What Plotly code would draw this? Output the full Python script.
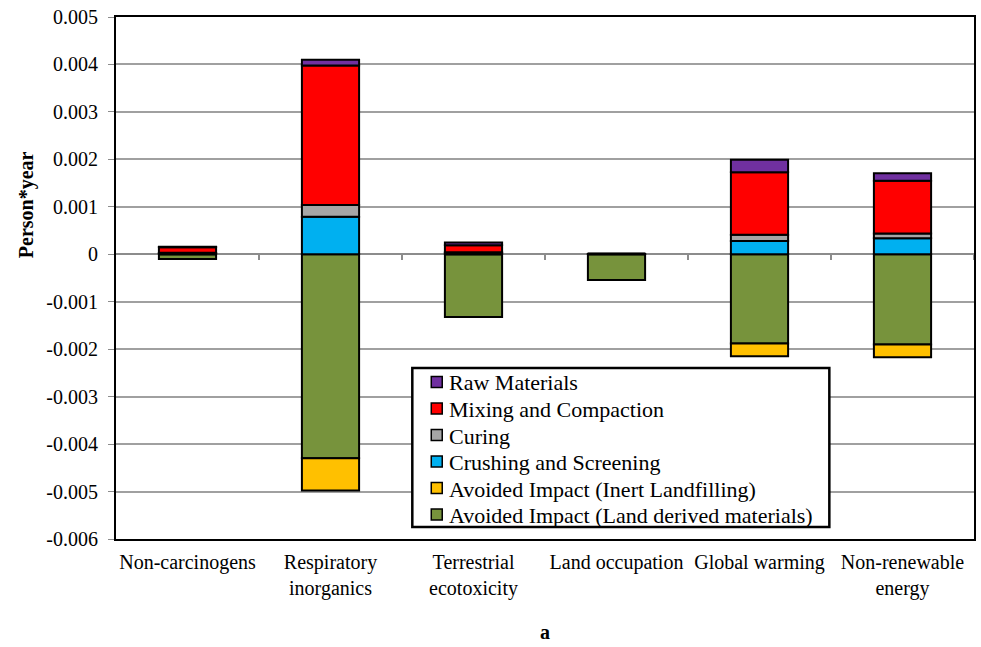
import plotly.graph_objects as go

categories = ["Non-carcinogens", "Respiratory<br>inorganics", "Terrestrial<br>ecotoxicity",
              "Land occupation", "Global warming", "Non-renewable<br>energy"]

land_derived = [-0.00010, -0.00430, -0.00132, -0.00054, -0.00188, -0.00190]
inert_landfill = [0.0, -0.00068, 0.0, 0.0, -0.00027, -0.00027]
crushing = [0.00002, 0.00079, 0.00003, 0.000005, 0.00028, 0.00034]
curing = [0.00001, 0.00025, 0.00001, 0.000005, 0.00013, 0.00010]
mixing = [0.00012, 0.00294, 0.00015, 0.0, 0.00132, 0.00111]
raw_materials = [0.00001, 0.00012, 0.00006, 0.0, 0.00026, 0.00016]

y_ticks = [-0.006, -0.005, -0.004, -0.003, -0.002, -0.001, 0.0,
           0.001, 0.002, 0.003, 0.004, 0.005]
y_tick_labels = ["0" if v == 0 else f"{v:.3f}" for v in y_ticks]

series = [
    ("Avoided Impact (Land derived materials)", land_derived, "#77933C"),
    ("Avoided Impact (Inert Landfilling)", inert_landfill, "#FFC000"),
    ("Crushing and Screening", crushing, "#00B0F0"),
    ("Curing", curing, "#A6A6A6"),
    ("Mixing and Compaction", mixing, "#FF0000"),
    ("Raw Materials", raw_materials, "#7030A0"),
]

serif = "Liberation Serif"
W, H = 981, 647
M_L, M_R, M_T, M_B = 116, 5, 17, 108
PW, PH = W - M_L - M_R, H - M_T - M_B


def px_x(x):
    return (x - M_L) / PW


def px_y(y):
    return (H - M_B - y) / PH


fig = go.Figure()
for name, vals, color in series:
    fig.add_trace(go.Bar(
        x=list(range(len(categories))), y=vals, name=name,
        marker=dict(color=color, line=dict(color="black", width=2)),
        width=0.4, showlegend=False,
    ))

# small category-separator ticks on the zero line
for i in range(len(categories)):
    fig.add_shape(type="line", xref="x", yref="y",
                  x0=i + 0.5, x1=i + 0.5, y0=0, y1=-0.00012,
                  line=dict(color="#8c8c8c", width=2))

# boxed legend, top entry = last stacked series
annotations = []
box_l, box_r, box_t, box_b = 413, 831, 368, 527
fig.add_shape(type="rect", xref="paper", yref="paper",
              x0=px_x(box_l), x1=px_x(box_r), y0=px_y(box_b), y1=px_y(box_t),
              line=dict(color="black", width=2.5), fillcolor="white", layer="above")
row_h = 26.5
for k, (name, vals, color) in enumerate(reversed(series)):
    cy = 382 + k * row_h
    fig.add_shape(type="rect", xref="paper", yref="paper",
                  x0=px_x(432), x1=px_x(443), y0=px_y(cy + 5.5), y1=px_y(cy - 5.5),
                  line=dict(color="black", width=1.5), fillcolor=color, layer="above")
    annotations.append(dict(
        text=name, xref="paper", yref="paper", x=px_x(448), y=px_y(cy + 1),
        xanchor="left", yanchor="middle", showarrow=False,
        font=dict(family=serif, size=22, color="black"),
    ))

annotations.append(dict(
    text="<b>Person*year</b>", xref="paper", yref="paper",
    x=px_x(26), y=px_y(205), xanchor="center", yanchor="middle",
    textangle=-90, showarrow=False, font=dict(family=serif, size=20, color="black"),
))
annotations.append(dict(
    text="<b>a</b>", xref="paper", yref="paper", x=0.5, y=px_y(632),
    xanchor="center", yanchor="middle",
    showarrow=False, font=dict(size=20, family=serif, color="black"),
))

fig.update_layout(
    width=W, height=H,
    barmode="relative",
    plot_bgcolor="white", paper_bgcolor="white",
    margin=dict(l=M_L, r=M_R, t=M_T, b=M_B),
    font=dict(family=serif, size=20, color="black"),
    showlegend=False,
    xaxis=dict(
        tickmode="array", tickvals=list(range(len(categories))), ticktext=categories,
        range=[-0.5, len(categories) - 0.5],
        showgrid=False, ticks="", showline=True, linecolor="black", linewidth=2,
        mirror=True, zeroline=False, ticklabelstandoff=4,
        tickfont=dict(family=serif, size=20, color="black"),
    ),
    yaxis=dict(
        range=[-0.006, 0.005], tickmode="array", tickvals=y_ticks, ticktext=y_tick_labels,
        showgrid=True, gridcolor="#a0a0a0", gridwidth=1.5,
        zeroline=True, zerolinecolor="#8c8c8c", zerolinewidth=2,
        showline=True, linecolor="black", linewidth=2, mirror=True,
        ticks="outside", ticklen=6, tickcolor="#8c8c8c", ticklabelstandoff=6,
        tickfont=dict(family=serif, size=20, color="black"),
    ),
    annotations=annotations,
)

fig.write_html("out.html")
